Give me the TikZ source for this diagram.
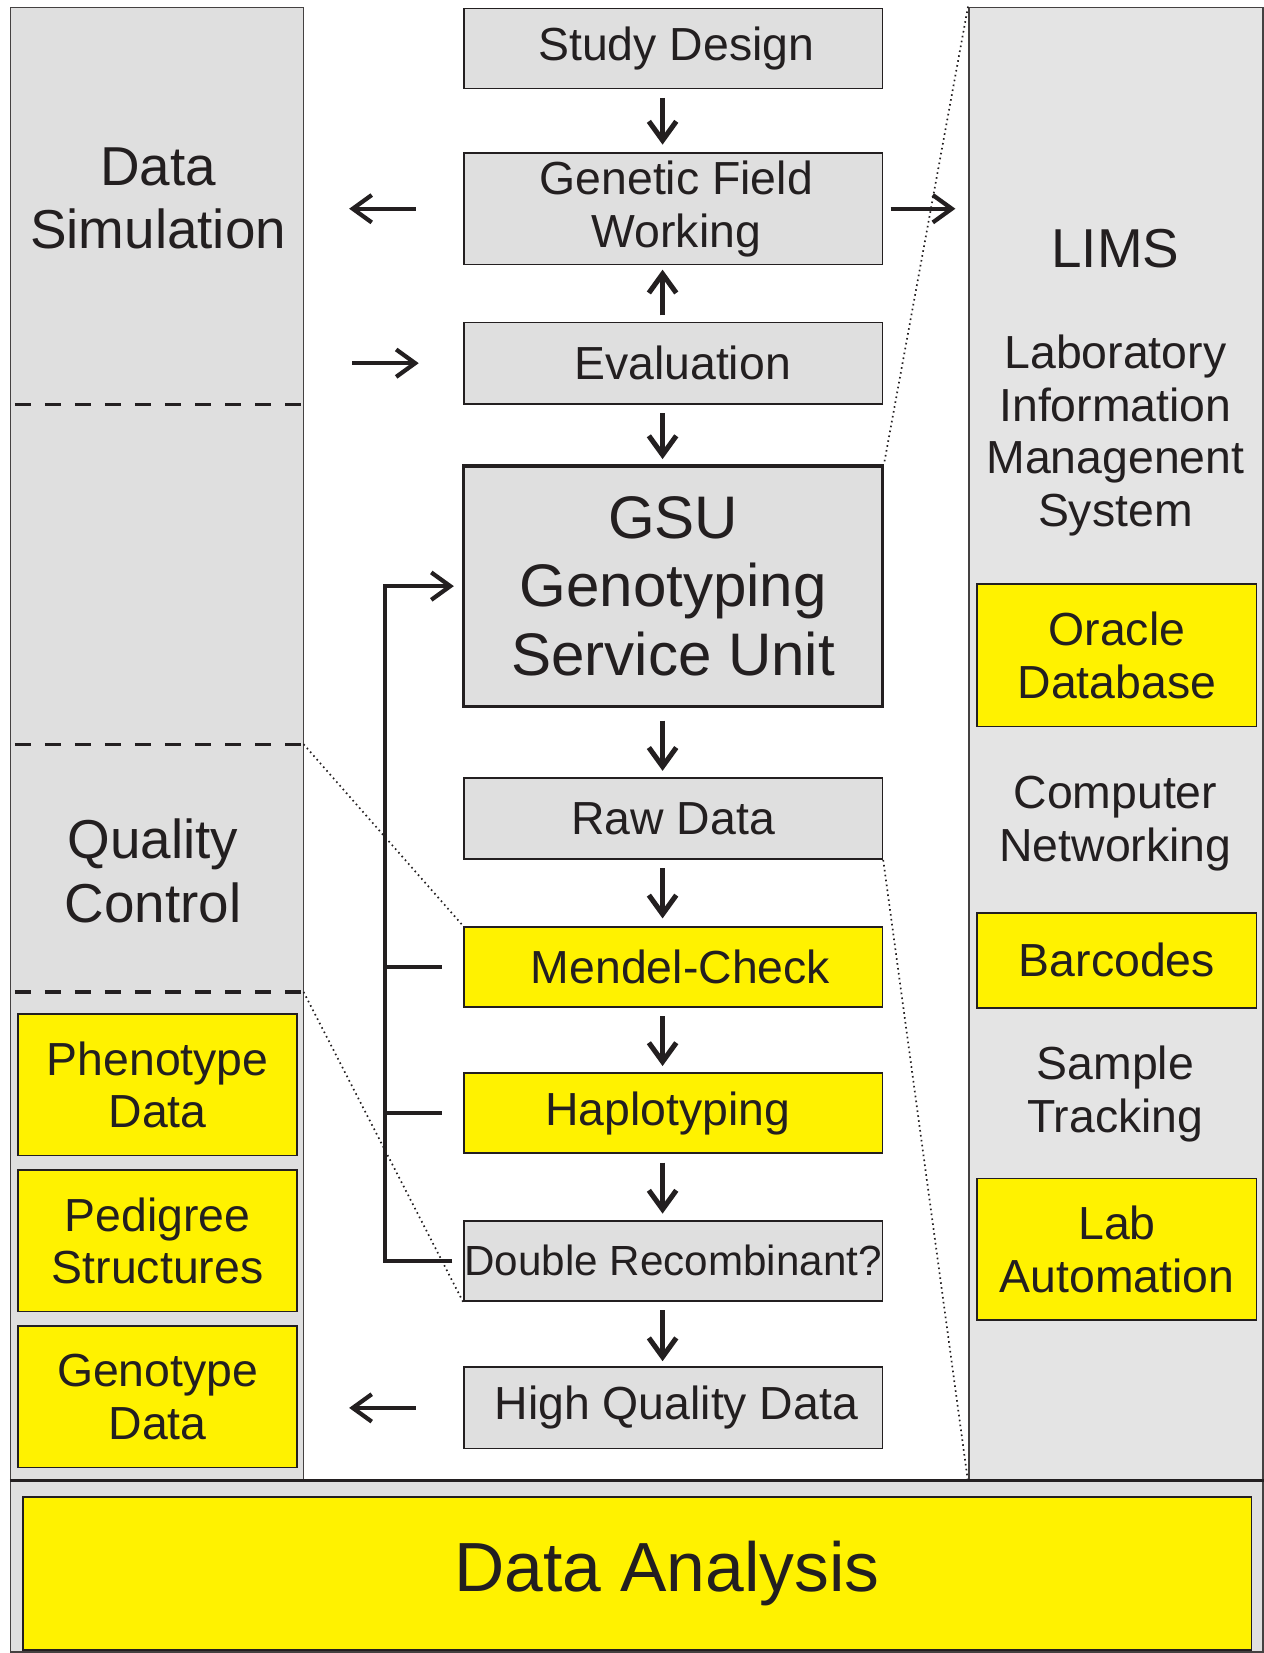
\documentclass[tikz,border=0pt]{standalone}
\usepackage{fontspec}
\setmainfont{Liberation Sans}
\usetikzlibrary{arrows.meta}
\definecolor{ylw}{HTML}{FFF200}
\definecolor{bgray}{HTML}{DFDFDF}
\definecolor{rgray}{HTML}{E4E4E4}
\definecolor{ink}{HTML}{231F20}
\begin{document}
\begin{tikzpicture}[x=1pt,y=-1pt,
  box/.style={draw=ink, line width=1.6pt, fill=bgray, inner sep=0pt, align=center, text=ink,
    minimum width=397pt, font=\fontsize{44}{50}\selectfont},
  ybox/.style={box, fill=ylw},
  sidebox/.style={draw=ink, line width=1.6pt, fill=ylw, inner sep=0pt, align=center, text=ink,
    minimum width=265pt, font=\fontsize{44}{50}\selectfont},
  panel/.style={draw=ink!85, line width=1.5pt, inner sep=0pt},
  lbl/.style={align=center, text=ink, font=\fontsize{44}{50}\selectfont},
  big/.style={align=center, text=ink, font=\fontsize{52}{60}\selectfont},
  tip/.style={-{Straight Barb[length=18pt,width=26pt]}},
  arr/.style={draw=ink, line width=4.8pt, tip},
  fb/.style={draw=ink, line width=4pt},
  sepline/.style={draw=ink, line width=3pt, dash pattern=on 15pt off 13.5pt},
  dotline/.style={draw=ink, line width=1.6pt, dash pattern=on 1.5pt off 3.2pt},
]
\useasboundingbox (0,0) rectangle (1199,1568);
\fill[white] (0,0) rectangle (1199,1568);

% panels
\node[panel, fill=bgray, minimum width=278pt, minimum height=1398pt] (lp) at (149,706) {};
\node[panel, fill=rgray, minimum width=279pt, minimum height=1398pt] (rp) at (1058.5,706) {};
\node[panel, fill=bgray, minimum width=1188pt, minimum height=162pt] (bp) at (604,1486) {};
\draw[ink, line width=2.5pt] (bp.north west) -- (bp.north east);

% left panel contents
\draw[sepline] (14,384) -- (286,384);
\draw[sepline] (14,706) -- (286,706);
\draw[sepline] (14,941) -- (286,941);
\node[big] (dsim) at (150,188) {Data\\Simulation};
\node[big] (qc) at (145,826) {Quality\\Control};
\node[sidebox, minimum height=134pt] (pheno) at (149.5,1029) {Phenotype\\Data};
\node[sidebox, minimum height=134pt] (pedi) at (149.5,1177) {Pedigree\\Structures};
\node[sidebox, minimum height=134pt] (geno) at (149.5,1325) {Genotype\\Data};

% right panel contents
\node[big] (lims) at (1058,236) {LIMS};
\node[lbl] (limsfull) at (1058,413) {Laboratory\\Information\\Managenent\\System};
\node[sidebox, minimum height=135pt] (oracle) at (1059.5,621.5) {Oracle\\Database};
\node[lbl] (net) at (1058,781) {Computer\\Networking};
\node[sidebox, minimum height=90pt] (bar) at (1059.5,911) {Barcodes};
\node[lbl] (track) at (1058,1038) {Sample\\Tracking};
\node[sidebox, minimum height=134pt] (lab) at (1059.5,1185) {Lab\\Automation};

% bottom panel
\node[draw=ink, line width=1.6pt, fill=ylw, inner sep=0pt, text=ink, minimum width=1165pt, minimum height=145pt,
  font=\fontsize{66}{70}\selectfont] (da) at (604.5,1492.5) {\hspace*{56pt}Data Analysis};

% centre column
\node[box, minimum height=76pt] (sd) at (638.5,46) {\hspace*{6pt}Study Design};
\node[box, minimum height=106pt] (gfw) at (638.5,198) {\hspace*{6pt}Genetic Field\\\hspace*{6pt}Working};
\node[box, minimum height=77pt] (ev) at (638.5,344.5) {\hspace*{18pt}Evaluation};
\node[box, line width=3pt, minimum height=228pt, font=\fontsize{57}{65}\selectfont] (gsu) at (638.5,556) {GSU\\Genotyping\\Service Unit};
\node[box, minimum height=77pt] (raw) at (638.5,776.5) {Raw Data};
\node[ybox, minimum height=76pt] (mc) at (638.5,917) {\hspace*{14pt}Mendel-Check};
\node[ybox, minimum height=76pt] (hap) at (638.5,1056) {Haplotyping\hspace*{10pt}};
\node[box, minimum height=76pt, font=\fontsize{40}{44}\selectfont] (dr) at (638.5,1196) {Double Recombinant?};
\node[box, minimum height=77pt] (hq) at (638.5,1335.5) {\hspace*{6pt}High Quality Data};

% vertical arrows
\draw[arr] ([xshift=-10pt,yshift=-8pt]sd.south) -- ([xshift=-10pt,yshift=7pt]gfw.north);
\draw[arr] ([xshift=-10pt,yshift=6pt]ev.north) -- ([xshift=-10pt,yshift=-4pt]gfw.south);
\draw[arr] ([xshift=-10pt,yshift=-8pt]ev.south) -- ([xshift=-10pt,yshift=5pt]gsu.north);
\draw[arr] ([xshift=-10pt,yshift=-12pt]gsu.south) -- ([xshift=-10pt,yshift=6pt]raw.north);
\draw[arr] ([xshift=-10pt,yshift=-8pt]raw.south) -- ([xshift=-10pt,yshift=7pt]mc.north);
\draw[arr] ([xshift=-10pt,yshift=-8pt]mc.south) -- ([xshift=-10pt,yshift=6pt]hap.north);
\draw[arr] ([xshift=-10pt,yshift=-8pt]hap.south) -- ([xshift=-10pt,yshift=6pt]dr.north);
\draw[arr] ([xshift=-10pt,yshift=-8pt]dr.south) -- ([xshift=-10pt,yshift=5pt]hq.north);

% side arrows
\draw[arr, line width=4pt] ([xshift=-45pt]gfw.west) -- ([xshift=-108pt]gfw.west);
\draw[arr, line width=4pt] ([xshift=-105pt]ev.west) -- ([xshift=-42pt]ev.west);
\draw[arr, line width=4pt] ([xshift=-45pt]hq.west) -- ([xshift=-108pt]hq.west);
\draw[arr, line width=4pt] ([xshift=7pt]gfw.east) -- ([xshift=-12pt]rp.west |- gfw.east);

% feedback loop
\draw[fb, line join=miter, tip] ([xshift=-10pt]dr.west) -- ([xshift=-74pt]dr.west) |- ([xshift=-8pt]gsu.west);
\draw[fb] ([xshift=-20pt]mc.west) -- ([xshift=-74pt]mc.west);
\draw[fb] ([xshift=-20pt]hap.west) -- ([xshift=-74pt]hap.west);

% dotted zoom lines
\coordinate (q1) at (288,706);
\coordinate (q2) at (288,941);
\draw[dotline] (rp.north west) -- (gsu.north east);
\draw[dotline] (raw.south east) -- (rp.south west);
\draw[dotline] (q1) -- (mc.north west);
\draw[dotline] (q2) -- (dr.south west);
\end{tikzpicture}
\end{document}
